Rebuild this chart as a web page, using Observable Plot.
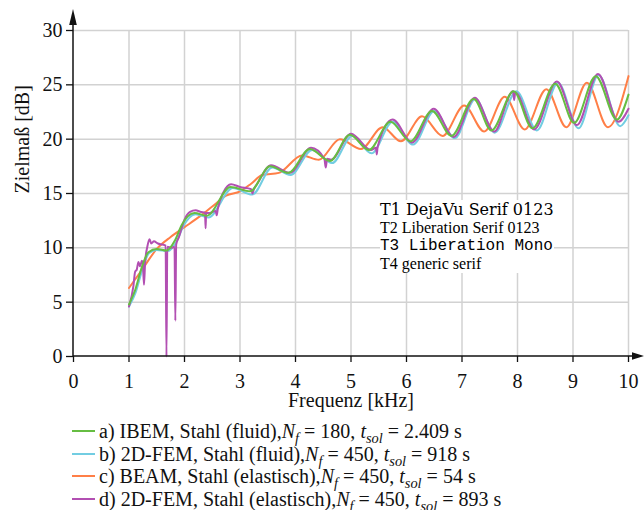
<!DOCTYPE html>
<html><head><meta charset="utf-8">
<script src="https://cdn.jsdelivr.net/npm/d3@7"></script>
<script src="https://cdn.jsdelivr.net/npm/@observablehq/plot@0.6"></script>
</head><body style='margin:0;background:#fff'>
<div id="chart"></div>
<div id="legend" style='margin-left:72px;margin-top:5px;font-size:20px;line-height:22.5px;color:#111;font-family:"Liberation Serif"'></div>
<div style='position:absolute;left:380px;top:200px;font-size:16px;background:#fff'>
<div style='font-family:"DejaVu Serif"'>T1 DejaVu Serif 0123</div>
<div style='font-family:"Liberation Serif"'>T2 Liberation Serif 0123</div>
<div style='font-family:"Liberation Mono"'>T3 Liberation Mono</div>
<div style='font-family:serif'>T4 generic serif</div>
</div>
<script>
const xTicks = [0,1,2,3,4,5,6,7,8,9,10];
const yTicks = [0,5,10,15,20,25,30];
const xLabel = "Frequenz [kHz]";
const yLabel = "Zielmaß [dB]";
const legendKeys = ["a)", "b)", "c)", "d)"];
const methods = ["IBEM", "2D-FEM", "BEAM", "2D-FEM"];
const materials = ["Stahl (fluid)", "Stahl (fluid)", "Stahl (elastisch)", "Stahl (elastisch)"];
const nfValues = [180, 450, 450, 450];
const tsolValues = ["2.409", "918", "54", "893"];
const colors = ["#66bd42", "#72cde2", "#ff7f47", "#b24fb2"];
const fA = [1.0,1.11,1.23,1.35,1.5,1.68,1.83,1.95,2.18,2.4,2.83,3.18,3.54,3.87,4.26,4.62,4.98,5.32,5.71,6.07,6.46,6.81,7.21,7.53,7.93,8.27,8.68,9.02,9.41,9.79,10.0];
const vA = [4.8,6.1,8.2,9.6,9.9,9.75,10.7,12.1,13.2,12.95,15.6,15.2,17.5,16.9,19.1,18.0,20.4,19.0,21.6,19.8,22.6,20.3,23.7,20.8,24.4,21.0,25.1,21.5,25.8,21.8,24.1];
const fB = [1.0,1.12,1.24,1.36,1.5,1.7,1.86,1.98,2.2,2.43,2.87,3.22,3.58,3.91,4.3,4.66,5.02,5.37,5.75,6.12,6.5,6.87,7.24,7.59,7.98,8.35,8.73,9.1,9.46,9.85,10.0];
const vB = [4.6,5.9,8.0,9.5,9.8,9.7,10.6,12.0,13.1,12.8,15.5,14.9,17.4,16.7,19.0,17.8,20.3,18.7,21.6,19.5,22.6,20.1,23.7,20.6,24.4,20.8,25.2,21.0,25.9,21.2,22.2];
const fC = [1.0,1.25,1.5,1.75,2.0,2.25,2.5,2.75,3.0,3.2,3.4,3.7,4.12,4.42,4.8,5.18,5.57,5.9,6.28,6.65,7.04,7.4,7.77,8.13,8.52,8.88,9.25,9.63,10.0];
const vC = [6.3,8.1,9.9,11.0,11.9,12.8,13.8,14.8,15.2,15.9,16.7,16.9,18.5,18.1,20.0,19.1,21.1,19.8,22.1,20.3,23.1,20.7,23.9,20.9,24.6,21.1,25.2,21.1,25.8];
const fD = [1.0,1.08,1.11,1.14,1.17,1.2,1.23,1.25,1.27,1.29,1.33,1.37,1.4,1.45,1.52,1.6,1.66,1.675,1.69,1.76,1.82,1.835,1.85,1.9,2.0,2.1,2.2,2.3,2.37,2.38,2.39,2.45,2.56,2.58,2.6,2.7,2.84,3.0,3.2,3.225,3.25,3.3,3.56,3.9,4.28,4.52,4.545,4.57,4.64,5.0,5.36,5.45,5.465,5.48,5.75,6.1,6.49,6.85,7.23,7.58,7.92,7.94,7.96,8.3,8.71,9.07,9.45,9.82,10.0];
const vD = [4.6,6.5,7.8,8.0,8.7,8.3,8.8,8.5,6.6,8.6,10.1,10.8,10.4,10.6,10.4,10.3,10.2,0.0,10.1,10.0,10.1,3.3,10.3,11.0,12.6,13.3,13.45,13.3,13.25,11.8,13.2,13.2,13.4,13.0,13.6,15.1,15.85,15.6,15.4,15.0,15.4,15.8,17.6,16.9,19.2,18.2,17.4,18.2,18.1,20.5,19.0,19.2,18.6,19.3,21.8,19.7,22.8,20.2,23.8,20.7,24.4,23.6,24.3,20.9,25.3,21.3,26.0,21.6,22.8];

const toRows = (f, v) => f.map((x, i) => ({f: x, v: v[i]}));
const lineOpts = (c) => ({x: "f", y: "v", stroke: c, strokeWidth: 2, curve: "monotone-x"});
const serif = '"Liberation Serif"';

const plot = Plot.plot({
  width: 644, height: 415,
  marginLeft: 73, marginRight: 16, marginTop: 30, marginBottom: 59,
  style: {fontFamily: serif, fontSize: "20px", color: "#111", background: "white", overflow: "visible"},
  x: {domain: [0, 10]},
  y: {domain: [0, 30]},
  marks: [
    Plot.ruleX(xTicks.slice(1), {stroke: "#d2d2d2", strokeWidth: 1.5}),
    Plot.ruleY(yTicks.slice(1), {stroke: "#d2d2d2", strokeWidth: 1.5}),
    Plot.line(toRows(fC, vC), lineOpts(colors[2])),
    Plot.line(toRows(fB, vB), lineOpts(colors[1])),
    Plot.line(toRows(fD, vD), lineOpts(colors[3])),
    Plot.line(toRows(fA, vA), lineOpts(colors[0])),
    Plot.axisX({ticks: xTicks, tickSize: 6, tickPadding: 11, label: null, stroke: "#111", strokeWidth: 1.3, fontSize: 20}),
    Plot.axisY({ticks: yTicks, tickSize: 7, tickPadding: 4, label: null, stroke: "#111", strokeWidth: 1.3, fontSize: 20}),
    Plot.text([xLabel], {frameAnchor: "bottom", lineAnchor: "middle", dy: 44, text: d => d, fontSize: 20}),
    Plot.text([yLabel], {frameAnchor: "left", lineAnchor: "middle", dx: -51, rotate: -90, text: d => d, fontSize: 20})
  ]
});

const sx = plot.scale("x"), sy = plot.scale("y");
const X0 = sx.apply(0), XR = sx.apply(10), Y0 = sy.apply(0), YT = sy.apply(30);
const g = d3.select(plot).append("g");
g.append("line").attr("x1", X0).attr("x2", XR + 8).attr("y1", Y0).attr("y2", Y0).attr("stroke", "#111").attr("stroke-width", 1.5);
g.append("path").attr("d", `M${XR + 16},${Y0}L${XR + 4},${Y0 - 3.8}L${XR + 4},${Y0 + 3.8}Z`).attr("fill", "#111");
g.append("line").attr("x1", X0).attr("x2", X0).attr("y1", Y0).attr("y2", YT - 8).attr("stroke", "#111").attr("stroke-width", 1.5);
g.append("path").attr("d", `M${X0},${YT - 21}L${X0 - 3.8},${YT - 5}L${X0 + 3.8},${YT - 5}Z`).attr("fill", "#111");

document.getElementById("chart").append(plot);

const leg = document.getElementById("legend");
legendKeys.forEach((k, i) => {
  const row = document.createElement("div");
  Object.assign(row.style, {display: "flex", alignItems: "center", whiteSpace: "nowrap"});
  const sub = (t) => `<sub style="font-size:0.72em;line-height:0;vertical-align:-0.35em"><i>${t}</i></sub>`;
  row.innerHTML = `<span style="width:23px;height:2px;margin-right:4px;flex:none;background:${colors[i]}"></span><span>${k} ${methods[i]}, ${materials[i]},<i>N</i>${sub("f")} = ${nfValues[i]}, <i>t</i>${sub("sol")} = ${tsolValues[i]} s</span>`;
  leg.append(row);
});
</script></body></html>
